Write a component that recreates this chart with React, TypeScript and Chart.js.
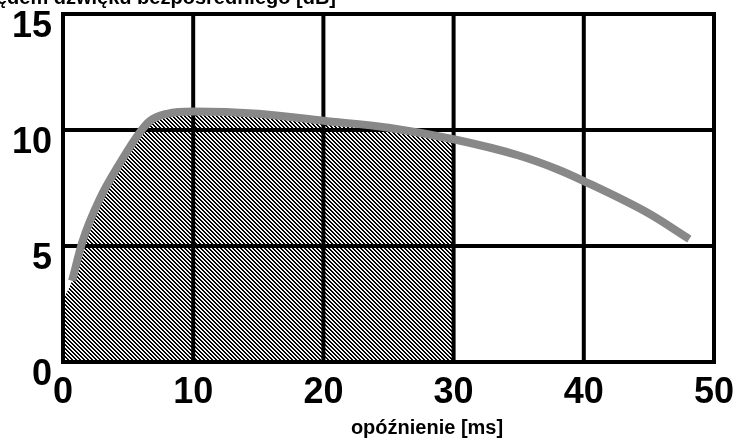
import React, { useEffect, useRef } from "react";
import { Chart, registerables } from "chart.js";

Chart.register(...registerables);

// Delay [ms] vs level relative to direct sound [dB]
const delayMs = [0.7, 1.5, 2.8, 4.4, 5.9, 6.7, 8, 10, 15, 20, 25, 30, 35, 38, 40, 45, 48.1];
const levelDb = [3.5, 5.2, 7.0, 8.6, 9.9, 10.4, 10.7, 10.8, 10.7, 10.4, 10.1, 9.6, 8.9, 8.3, 7.8, 6.4, 5.3];

// Hatched region (0–30 ms) under the curve
const hatchDelayMs = [0, 0.7, 1.5, 2.8, 4.4, 5.9, 6.7, 8, 10, 15, 20, 25, 30];
const hatchLevelDb = [2.7, 3.5, 5.2, 7.0, 8.6, 9.85, 10.3, 10.6, 10.65, 10.55, 10.25, 9.95, 9.45];

const xTicks = [0, 10, 20, 30, 40, 50];
const yTicks = [0, 5, 10, 15];

const xTitle = "opóźnienie [ms]";
const yTitle = "Poziom względem dźwięku bezpośredniego [dB]";

const FONT = '"Liberation Sans", Arial, sans-serif';

function makePattern(): CanvasPattern | string {
  const c = document.createElement("canvas");
  c.width = 8;
  c.height = 8;
  const ctx = c.getContext("2d");
  if (!ctx) return "#333";
  const img = ctx.createImageData(8, 8);
  const shades = [0, 0, 235, 255];
  for (let y = 0; y < 8; y++) {
    for (let x = 0; x < 8; x++) {
      const v = shades[(((x - y) % 4) + 4) % 4];
      const i = (y * 8 + x) * 4;
      img.data[i] = v;
      img.data[i + 1] = v;
      img.data[i + 2] = v;
      img.data[i + 3] = 255;
    }
  }
  ctx.putImageData(img, 0, 0);
  const p = ctx.createPattern(c, "repeat");
  return p || "#333";
}

export default function App() {
  const ref = useRef<HTMLCanvasElement | null>(null);

  useEffect(() => {
    if (!ref.current) return;

    const gridPlugin = {
      id: "gridOver",
      afterDatasetDraw(chart: any, args: any) {
        if (args.index !== 1) return;
        const { ctx, chartArea, scales } = chart;
        ctx.save();
        ctx.strokeStyle = "#000";
        ctx.lineWidth = 4;
        ctx.lineCap = "square";
        xTicks.forEach((v) => {
          const px = scales.x.getPixelForValue(v);
          ctx.beginPath();
          ctx.moveTo(px, chartArea.top);
          ctx.lineTo(px, chartArea.bottom);
          ctx.stroke();
        });
        yTicks.forEach((v) => {
          const py = scales.y.getPixelForValue(v);
          ctx.beginPath();
          ctx.moveTo(chartArea.left, py);
          ctx.lineTo(chartArea.right, py);
          ctx.stroke();
        });
        ctx.restore();
      },
      afterDraw(chart: any) {
        const { ctx } = chart;
        ctx.save();
        ctx.fillStyle = "#000";
        ctx.font = `bold 20px ${FONT}`;
        ctx.textAlign = "center";
        ctx.textBaseline = "alphabetic";
        ctx.fillText(xTitle, 427, 434);
        ctx.textAlign = "right";
        ctx.fillText(yTitle, 336, 4);
        ctx.restore();
      },
    };

    const chart = new Chart(ref.current, {
      type: "line",
      data: {
        datasets: [
          {
            label: "level",
            data: delayMs.map((x, i) => ({ x, y: levelDb[i] })),
            borderColor: "#888888",
            borderWidth: 8,
            borderCapStyle: "butt",
            pointRadius: 0,
            cubicInterpolationMode: "monotone",
            fill: false,
            order: 0,
          },
          {
            label: "hatch",
            data: hatchDelayMs.map((x, i) => ({ x, y: hatchLevelDb[i] })),
            borderWidth: 0,
            borderColor: "rgba(0,0,0,0)",
            backgroundColor: makePattern() as any,
            pointRadius: 0,
            cubicInterpolationMode: "monotone",
            fill: "origin",
            order: 1,
          },
        ],
      },
      options: {
        animation: false,
        responsive: true,
        maintainAspectRatio: false,
        layout: { padding: { top: 14, right: 31, bottom: 0, left: 0 } },
        plugins: {
          legend: { display: false },
          tooltip: { enabled: false },
        },
        scales: {
          x: {
            type: "linear",
            min: 0,
            max: 50,
            grid: { display: false, drawTicks: false },
            border: { display: false },
            afterBuildTicks: (s: any) => {
              s.ticks = xTicks.map((v) => ({ value: v }));
            },
            afterFit: (s: any) => {
              s.height = 77;
              s.paddingLeft = 0;
              s.paddingRight = 0;
            },
            ticks: {
              color: "#000",
              padding: 9,
              maxRotation: 0,
              font: { family: FONT, size: 36, weight: "bold" },
            },
          },
          y: {
            type: "linear",
            min: 0,
            max: 15,
            grid: { display: false, drawTicks: false },
            border: { display: false },
            afterBuildTicks: (s: any) => {
              s.ticks = yTicks.map((v) => ({ value: v }));
            },
            afterFit: (s: any) => {
              s.width = 63;
              s.paddingTop = 0;
              s.paddingBottom = 0;
            },
            ticks: {
              color: "#000",
              padding: 11,
              labelOffset: 13,
              font: { family: FONT, size: 36, weight: "bold" },
            },
          },
        },
      },
      plugins: [gridPlugin],
    });

    return () => chart.destroy();
  }, []);

  return (
    <div
      style={{
        position: "absolute",
        left: 0,
        top: 0,
        width: 745,
        height: 439,
        background: "#fff",
      }}
    >
      <canvas ref={ref} />
    </div>
  );
}
